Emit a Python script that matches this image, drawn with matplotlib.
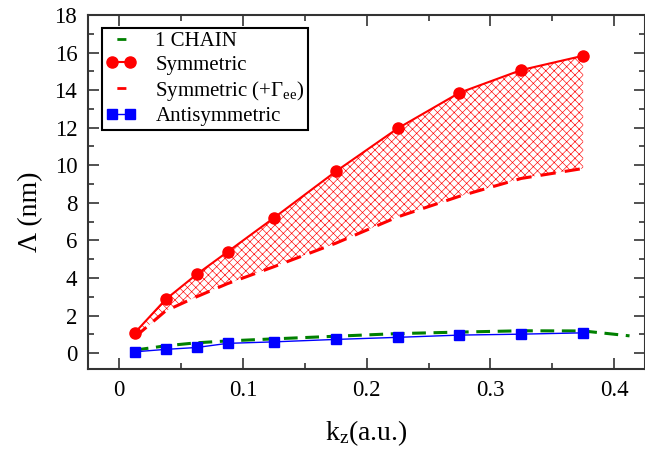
import matplotlib
matplotlib.use('Agg')
import matplotlib.pyplot as plt
from matplotlib.lines import Line2D
from matplotlib.ticker import MultipleLocator

plt.rcParams['font.family'] = ['Liberation Serif', 'DejaVu Serif']
plt.rcParams['mathtext.fontset'] = 'custom'
plt.rcParams['mathtext.rm'] = 'Liberation Serif'
plt.rcParams['mathtext.it'] = 'Liberation Serif:italic'
plt.rcParams['hatch.linewidth'] = 0.45
plt.rcParams['hatch.color'] = 'red'

# k_z values (a.u.)
kz = [0.0125, 0.0375, 0.0625, 0.0875, 0.125, 0.175, 0.225, 0.275, 0.325, 0.375]
kz_chain = [0.0125, 0.0375, 0.0625, 0.0875, 0.125, 0.175, 0.225, 0.275, 0.325, 0.375, 0.4125]

# Lambda (nm)
sym = [1.08, 2.86, 4.19, 5.39, 7.2, 9.67, 11.96, 13.86, 15.07, 15.83]
sym_gee = [0.85, 2.25, 3.0, 3.7, 4.6, 5.85, 7.25, 8.35, 9.3, 9.83]
antisym = [0.07, 0.2, 0.3, 0.52, 0.6, 0.73, 0.84, 0.96, 1.01, 1.08]
chain = [0.16, 0.39, 0.55, 0.65, 0.76, 0.9, 1.04, 1.12, 1.19, 1.18, 0.92]

fig = plt.figure(figsize=(6.45, 4.54), dpi=100)
ax = fig.add_axes([0.137, 0.187, 0.863, 0.780])

ax.fill_between(kz, sym_gee, sym, facecolor='none', edgecolor='red',
                hatch='xxxx', linewidth=0)
ax.plot(kz_chain, chain, color='green', lw=2.2, dashes=(4.5, 2.5), zorder=3)
ax.plot(kz, sym, color='red', lw=1.5, marker='o', ms=8, zorder=4)
ax.plot(kz, sym_gee, color='red', lw=2.2, dashes=(5, 3), zorder=3)
ax.plot(kz, antisym, color='blue', lw=1.0, marker='s', ms=7, zorder=4)

ax.set_xlim(-0.025, 0.425)
ax.set_ylim(-0.85, 18)
ax.xaxis.set_minor_locator(MultipleLocator(0.05))
ax.yaxis.set_major_locator(MultipleLocator(2))
ax.yaxis.set_minor_locator(MultipleLocator(1))
ax.set_xticks([0, 0.1, 0.2, 0.3, 0.4])
ax.set_xticklabels(['0', '0.1', '0.2', '0.3', '0.4'])
ax.tick_params(which='both', direction='in', top=True, right=True,
               labelsize=16.5, width=1.2, color='#333333', pad=8)
ax.tick_params(which='major', length=8)
ax.tick_params(which='minor', length=4)
for s in ax.spines.values():
    s.set_linewidth(1.5)
    s.set_color('#333333')

ax.set_xlabel('k$_\\mathrm{z}$(a.u.)', fontsize=20, labelpad=12)
ax.set_ylabel('\u039b (nm)', fontsize=20)
ax.yaxis.set_label_coords(-0.082, 0.445)

# legend proxies: dashed entries show one short dash in the middle
dash_mid = (21.5, (3.25, 20.0))
h_chain = Line2D([], [], color='green', lw=2.0, linestyle=dash_mid)
h_sym = Line2D([], [], color='red', lw=1.5, marker='o', ms=8)
h_gee = Line2D([], [], color='red', lw=2.0, linestyle=dash_mid)
h_anti = Line2D([], [], color='blue', lw=1.0, marker='s', ms=7)
leg = ax.legend([h_chain, h_sym, h_gee, h_anti],
                ['1 CHAIN', 'Symmetric', 'Symmetric (+$\\Gamma_\\mathrm{ee}$)', 'Antisymmetric'],
                loc='upper left', bbox_to_anchor=(0.025, 0.963), borderaxespad=0,
                fontsize=15, handlelength=1.5, handletextpad=0.9, labelspacing=0.2,
                borderpad=0.15, fancybox=False, framealpha=1, numpoints=2)
leg.get_frame().set_edgecolor('black')
leg.get_frame().set_linewidth(1.5)

fig.savefig('out.png', dpi=100)
